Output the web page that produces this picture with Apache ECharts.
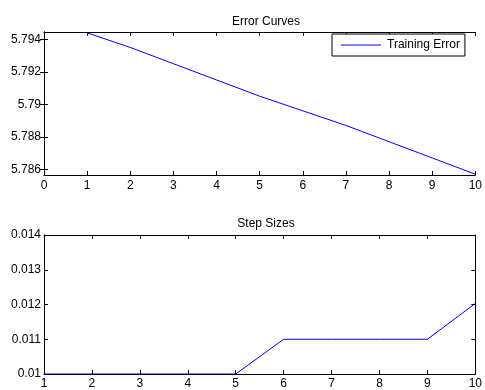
<!DOCTYPE html>
<html>
<head>
<meta charset="utf-8">
<script src="https://cdn.jsdelivr.net/npm/echarts@6/dist/echarts.min.js"></script>
<style>
  html, body { margin: 0; padding: 0; background: #fff; }
  #chart { width: 485px; height: 390px; }
</style>
</head>
<body>
<div id="chart"></div>
<script>
// ---------------------- Data ----------------------
let iterations = [1, 2, 3, 4, 5, 6, 7, 8, 9, 10];
let training_error = [5.7944, 5.7935, 5.7925, 5.7915, 5.7905, 5.7896, 5.7887, 5.7877, 5.7867, 5.7857];
let step_sizes = [0.01, 0.01, 0.01, 0.01, 0.01, 0.011, 0.011, 0.011, 0.011, 0.01203];
let error_ticks = [5.786, 5.788, 5.79, 5.792, 5.794];
let step_ticks = [0.01, 0.011, 0.012, 0.013, 0.014];

// -------------------- Helpers ---------------------
let font_family = "'Liberation Sans', Arial, sans-serif";
let label_style = { color: '#000', fontSize: 12, fontFamily: font_family };
let axis_line = { show: true, lineStyle: { color: '#000', width: 1 } };
let tick_in = { show: true, inside: true, length: 4, lineStyle: { color: '#000' } };

function to_pairs(xs, ys) {
    let out = [];
    for (let i = 0; i < xs.length; i++) out.push([xs[i], ys[i]]);
    return out;
}
function strip(v) { return String(+(+v).toFixed(4)); }

let chart = echarts.init(document.getElementById('chart'));

let option = {
    backgroundColor: '#fff',
    animation: false,
    title: [
        { text: 'Error Curves', left: 261, top: 11, textAlign: 'center',
          textStyle: { fontSize: 12, fontWeight: 'normal', color: '#000', fontFamily: font_family } },
        { text: 'Step Sizes', left: 261, top: 213, textAlign: 'center',
          textStyle: { fontSize: 12, fontWeight: 'normal', color: '#000', fontFamily: font_family } }
    ],
    legend: {
        data: ['Training Error'],
        left: 332, top: 34,
        padding: [5, 5, 5, 9],
        icon: 'rect',
        itemWidth: 40, itemHeight: 1, itemGap: 5,
        itemStyle: { color: '#0000ff' },
        backgroundColor: '#fff',
        borderColor: '#000', borderWidth: 1, borderRadius: 0,
        textStyle: { color: '#000', fontSize: 12, fontFamily: font_family, padding: [0, 0, 0, 1] }
    },
    grid: [
        { left: 44, top: 32, width: 440, height: 143 },
        { left: 44, top: 235, width: 440, height: 140 }
    ],
    xAxis: [
        { gridIndex: 0, type: 'value', min: 0, max: 10, interval: 1, position: 'bottom',
          axisLine: axis_line, axisTick: tick_in, splitLine: { show: false },
          axisLabel: Object.assign({ margin: 5 }, label_style) },
        { gridIndex: 0, type: 'value', min: 0, max: 10, interval: 1, position: 'top',
          axisLine: axis_line, axisTick: tick_in, splitLine: { show: false }, axisLabel: { show: false } },
        { gridIndex: 1, type: 'value', min: 1, max: 10, interval: 1, position: 'bottom',
          axisLine: axis_line, axisTick: tick_in, splitLine: { show: false },
          axisLabel: Object.assign({ margin: 4 }, label_style) },
        { gridIndex: 1, type: 'value', min: 1, max: 10, interval: 1, position: 'top',
          axisLine: axis_line, axisTick: tick_in, splitLine: { show: false }, axisLabel: { show: false } }
    ],
    yAxis: [
        { gridIndex: 0, type: 'value', min: 5.78565, max: 5.79445, position: 'left',
          axisLine: axis_line, splitLine: { show: false },
          axisTick: Object.assign({ customValues: error_ticks }, tick_in),
          axisLabel: Object.assign({ customValues: error_ticks, margin: 3, formatter: strip }, label_style) },
        { gridIndex: 0, type: 'value', min: 5.78565, max: 5.79445, position: 'right',
          axisLine: axis_line, splitLine: { show: false },
          axisTick: Object.assign({ customValues: error_ticks }, tick_in),
          axisLabel: { show: false } },
        { gridIndex: 1, type: 'value', min: 0.01, max: 0.014, position: 'left',
          axisLine: axis_line, splitLine: { show: false },
          axisTick: Object.assign({ customValues: step_ticks }, tick_in),
          axisLabel: Object.assign({ customValues: step_ticks, margin: 3, formatter: strip }, label_style) },
        { gridIndex: 1, type: 'value', min: 0.01, max: 0.014, position: 'right',
          axisLine: axis_line, splitLine: { show: false },
          axisTick: Object.assign({ customValues: step_ticks }, tick_in),
          axisLabel: { show: false } }
    ],
    series: [
        { name: 'Training Error', type: 'line', xAxisIndex: 0, yAxisIndex: 0,
          symbol: 'none', lineStyle: { color: '#0000ff', width: 1 }, itemStyle: { color: '#0000ff' },
          data: to_pairs(iterations, training_error) },
        { name: 'Step Sizes', type: 'line', xAxisIndex: 2, yAxisIndex: 2,
          symbol: 'none', lineStyle: { color: '#0000ff', width: 1 }, itemStyle: { color: '#0000ff' },
          data: to_pairs(iterations, step_sizes) }
    ]
};
chart.setOption(option);
</script>
</body>
</html>
